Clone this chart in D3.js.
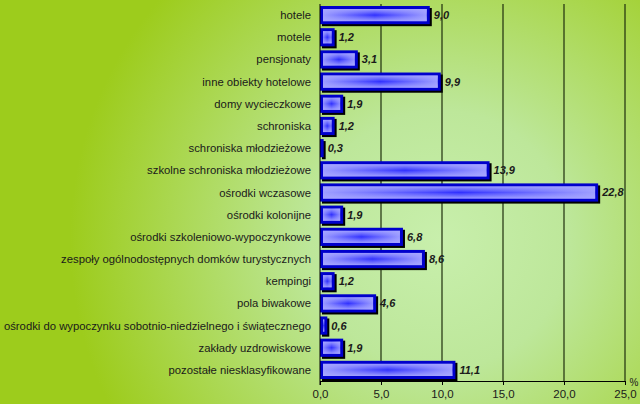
<!DOCTYPE html>
<html>
<head>
<meta charset="utf-8">
<script src="https://cdn.jsdelivr.net/npm/d3@7"></script>
<style>
  body { margin: 0; }
  text { font-family: "Liberation Sans", Arial, sans-serif; }
</style>
</head>
<body>
<div id="chart"></div>
<script>
const categories = [
  'hotele', 'motele', 'pensjonaty', 'inne obiekty hotelowe', 'domy wycieczkowe',
  'schroniska', 'schroniska młodzieżowe', 'szkolne schroniska młodzieżowe',
  'ośrodki wczasowe', 'ośrodki kolonijne', 'ośrodki szkoleniowo-wypoczynkowe',
  'zespoły ogólnodostępnych domków turystycznych', 'kempingi', 'pola biwakowe',
  'ośrodki do wypoczynku sobotnio-niedzielnego i świątecznego',
  'zakłady uzdrowiskowe', 'pozostałe niesklasyfikowane'
];
const values = [9.0, 1.2, 3.1, 9.9, 1.9, 1.2, 0.3, 13.9, 22.8, 1.9, 6.8, 8.6, 1.2, 4.6, 0.6, 1.9, 11.1];
const ticks = [0, 5, 10, 15, 20, 25];

const width = 640, height = 404;
const fmt = v => v.toFixed(1).replace('.', ',');

const svg = d3.select('#chart').append('svg')
  .attr('width', width)
  .attr('height', height);

const defs = svg.append('defs');

// background glow
const bg = defs.append('radialGradient')
  .attr('id', 'bg')
  .attr('gradientUnits', 'userSpaceOnUse')
  .attr('cx', 440).attr('cy', 240).attr('r', 370);
bg.append('stop').attr('offset', '0%').attr('stop-color', '#c8efac');
bg.append('stop').attr('offset', '35%').attr('stop-color', '#bde79a');
bg.append('stop').attr('offset', '100%').attr('stop-color', '#9dcc1c');

// bar fill: light edges, blue centre
const barH = defs.append('linearGradient').attr('id', 'barH');
barH.append('stop').attr('offset', '0%').attr('stop-color', '#a0a0ff');
barH.append('stop').attr('offset', '50%').attr('stop-color', '#3030ff');
barH.append('stop').attr('offset', '100%').attr('stop-color', '#a0a0ff');
const barV = defs.append('linearGradient').attr('id', 'barV')
  .attr('x1', 0).attr('y1', 0).attr('x2', 0).attr('y2', 1);
barV.append('stop').attr('offset', '0%').attr('stop-color', '#a8a8ff').attr('stop-opacity', 0.9);
barV.append('stop').attr('offset', '50%').attr('stop-color', '#a8a8ff').attr('stop-opacity', 0);
barV.append('stop').attr('offset', '100%').attr('stop-color', '#a8a8ff').attr('stop-opacity', 0.9);

svg.append('rect')
  .attr('width', width)
  .attr('height', height)
  .attr('fill', 'url(#bg)');

const x = d3.scaleLinear()
  .domain([0, 25])
  .range([320, 625]);

const y = d3.scaleBand()
  .domain(categories)
  .range([4, 381])
  .paddingInner(0.18)
  .paddingOuter(0.09);

// gridlines
svg.append('g')
  .selectAll('line')
  .data(ticks.slice(1))
  .join('line')
  .attr('x1', d => x(d))
  .attr('x2', d => x(d))
  .attr('y1', 4)
  .attr('y2', 381)
  .attr('stroke', '#1e2e0c')
  .attr('stroke-width', 1.2);

// bars
const bars = svg.append('g')
  .selectAll('g')
  .data(values)
  .join('g')
  .attr('transform', (d, i) => `translate(0,${y(categories[i])})`);

const bw = y.bandwidth();

bars.append('rect')
  .attr('x', x(0) + 2)
  .attr('y', 2)
  .attr('width', d => x(d) - x(0))
  .attr('height', bw)
  .attr('fill', '#000');

bars.append('rect')
  .attr('x', x(0) + 1.5)
  .attr('y', 1.5)
  .attr('width', d => Math.max(x(d) - x(0) - 3, 0.5))
  .attr('height', bw - 3)
  .attr('fill', 'url(#barH)')
  .attr('stroke', '#0000cc')
  .attr('stroke-width', 3);

bars.append('rect')
  .attr('x', x(0) + 3)
  .attr('y', 3)
  .attr('width', d => Math.max(x(d) - x(0) - 6, 0))
  .attr('height', bw - 6)
  .attr('fill', 'url(#barV)');

// value labels
bars.append('text')
  .attr('x', d => x(d) + 4)
  .attr('y', bw / 2 + 4)
  .attr('font-size', 11)
  .attr('font-weight', 'bold')
  .attr('font-style', 'italic')
  .attr('fill', '#1a1a1a')
  .text(d => fmt(d));

// category labels
svg.append('g')
  .selectAll('text')
  .data(categories)
  .join('text')
  .attr('x', 311)
  .attr('y', d => y(d) + bw / 2 + 4)
  .attr('text-anchor', 'end')
  .attr('font-size', 11.3)
  .attr('fill', '#1a1a1a')
  .text(d => d);

// x axis
const xAxis = svg.append('g')
  .attr('transform', 'translate(0,381)')
  .call(d3.axisBottom(x).tickValues(ticks).tickSize(4).tickSizeOuter(0).tickFormat(fmt));
xAxis.select('.domain').attr('stroke', '#000');
xAxis.selectAll('.tick line').attr('stroke', '#000');
xAxis.selectAll('.tick text')
  .attr('font-family', '"Liberation Sans", Arial, sans-serif')
  .attr('font-size', 11.5)
  .attr('fill', '#1a1a1a')
  .attr('dy', '0.9em');

svg.append('line')
  .attr('x1', x(0)).attr('x2', x(0))
  .attr('y1', 4).attr('y2', 385)
  .attr('stroke', '#000');

svg.append('text')
  .attr('x', 634)
  .attr('y', 386)
  .attr('text-anchor', 'middle')
  .attr('font-size', 10)
  .attr('fill', '#1a1a1a')
  .text('%');
</script>
</body>
</html>
